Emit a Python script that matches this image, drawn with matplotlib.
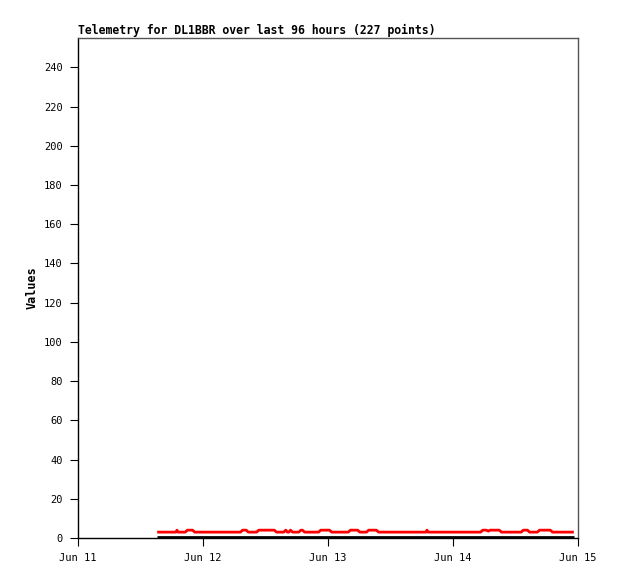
import matplotlib
matplotlib.use('Agg')
import matplotlib.pyplot as plt

# hours since Jun 11 00:00
red_hours = [15.2, 18.8, 19.0, 19.2, 20.6, 21.0, 22.0, 22.4,
             31.2, 31.6, 32.3, 32.7, 34.3, 34.7, 37.7, 38.1,
             39.5, 39.9, 40.2, 40.5, 40.8, 41.2, 41.5,
             42.4, 42.8, 43.1, 43.5, 46.2, 46.6, 48.3, 48.7,
             51.9, 52.3, 53.7, 54.1, 55.4, 55.8, 57.3, 57.7,
             66.8, 67.0, 67.2, 77.3, 77.7, 78.4, 78.8, 79.1,
             80.9, 81.3, 85.1, 85.5, 86.3, 86.7, 88.2, 88.6,
             90.7, 91.1, 95.2]
red_vals = [3, 3, 4, 3, 3, 4, 4, 3,
            3, 4, 4, 3, 3, 4, 4, 3,
            3, 4, 3, 3, 4, 3, 3,
            3, 4, 4, 3, 3, 4, 4, 3,
            3, 4, 4, 3, 3, 4, 4, 3,
            3, 4, 3, 3, 4, 4, 3.5, 4,
            4, 3, 3, 4, 4, 3, 3, 4,
            4, 3, 3]

black_hours = [15.2, 95.2]
black_vals = [0.5, 0.5]

tick_hours = [0, 24, 48, 72, 96]
tick_labels = ['Jun 11', 'Jun 12', 'Jun 13', 'Jun 14', 'Jun 15']
y_ticks = list(range(0, 241, 20))

mono = 'DejaVu Sans Mono'

fig = plt.figure(figsize=(6.18, 5.79), dpi=100)
ax = fig.add_axes([78 / 618, 1 - 538 / 579, 500 / 618, 500 / 579])

ax.plot(black_hours, black_vals, color='black', lw=2, solid_capstyle='butt')
ax.plot(red_hours, red_vals, color='#ff0000', lw=2, solid_capstyle='butt')

ax.set_xlim(0, 96)
ax.set_ylim(0, 255)
ax.set_xticks(tick_hours)
ax.set_xticklabels(tick_labels)
ax.set_yticks(y_ticks)

for lab in ax.get_xticklabels() + ax.get_yticklabels():
    lab.set_family(mono)
    lab.set_fontsize(7.5)

ax.tick_params(direction='out', length=6, width=0.8, color='black', pad=5)

for side in ['left', 'bottom']:
    ax.spines[side].set_color('black')
    ax.spines[side].set_linewidth(1)
for side in ['top', 'right']:
    ax.spines[side].set_color('#555555')
    ax.spines[side].set_linewidth(1)

ax.set_title('Telemetry for DL1BBR over last 96 hours (227 points)',
             loc='left', family=mono, fontweight='bold', fontsize=8.3, pad=3)
ax.set_ylabel('Values', family=mono, fontweight='bold', fontsize=8.5, labelpad=4)

fig.savefig('out.png', dpi=100)
